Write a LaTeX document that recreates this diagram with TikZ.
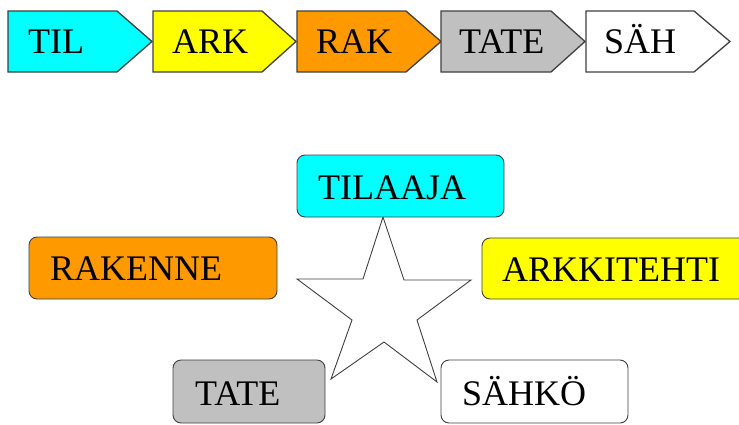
\documentclass[tikz,border=0pt]{standalone}
\usepackage{fontspec}
\setmainfont{Liberation Serif}
\definecolor{tcyan}{HTML}{00FFFF}
\definecolor{tyellow}{HTML}{FFFF00}
\definecolor{torange}{HTML}{FF9900}
\definecolor{tgray}{HTML}{C0C0C0}
\definecolor{tline}{HTML}{404040}
\begin{document}
\begin{tikzpicture}[x=1pt,y=-1pt,
  chev/.style={draw=tline, line width=1.3pt, line join=miter},
  rbox/.style={draw=tline, line width=0.9pt, rounded corners=8pt},
  lbl/.style={inner sep=0pt, anchor=base west, font=\fontsize{36}{40}\selectfont},
  starline/.style={draw=tline, line width=0.9pt, fill=white, line join=miter}]
\useasboundingbox (0,0) rectangle (739,424);
\clip (0,0) rectangle (739,424);
% top chevrons
\filldraw[chev, fill=tcyan]   (8,11) -- (117,11) -- (152,41.5) -- (117,72) -- (8,72) -- cycle;
\filldraw[chev, fill=tyellow] (153,11) -- (262,11) -- (296,41.5) -- (262,72) -- (153,72) -- cycle;
\filldraw[chev, fill=torange] (297,11) -- (406,11) -- (441,41.5) -- (406,72) -- (297,72) -- cycle;
\filldraw[chev, fill=tgray]   (441,11) -- (551,11) -- (585,41.5) -- (551,72) -- (441,72) -- cycle;
\filldraw[chev, fill=white]   (586,11) -- (694,11) -- (730,41.5) -- (694,72) -- (586,72) -- cycle;
\node[lbl] (til) at (28,53) {TIL};
\node[lbl] (ark) at (172,53) {ARK};
\node[lbl] (rak) at (316,53) {RAK};
\node[lbl] (tate) at (459,53) {TATE};
\node[lbl] (sah) at (604,53) {SÄH};
% star
\path[starline] (383,217) -- (404,280) -- (471,280) -- (417,320) -- (437,382)
  -- (384,342) -- (331,379) -- (352,320) -- (297,279) -- (363,279) -- cycle;
% boxes
\filldraw[rbox, fill=tcyan]   (297,155) rectangle (504,217);
\filldraw[rbox, fill=torange] (29,237) rectangle (277,299);
\filldraw[rbox, fill=tyellow] (482,238) rectangle (770,299);
\filldraw[rbox, fill=tgray]   (173,360) rectangle (325,423);
\filldraw[rbox, fill=white]   (441,360) rectangle (628,423);
\node[lbl] (tilaaja) at (318,199) {TILAAJA};
\node[lbl] (rakenne) at (50,280) {RAKENNE};
\node[lbl] (arkkitehti) at (502,281) {ARKKITEHTI};
\node[lbl] (tatebox) at (195,405) {TATE};
\node[lbl] (sahko) at (462,405) {SÄHKÖ};
\end{tikzpicture}
\end{document}
